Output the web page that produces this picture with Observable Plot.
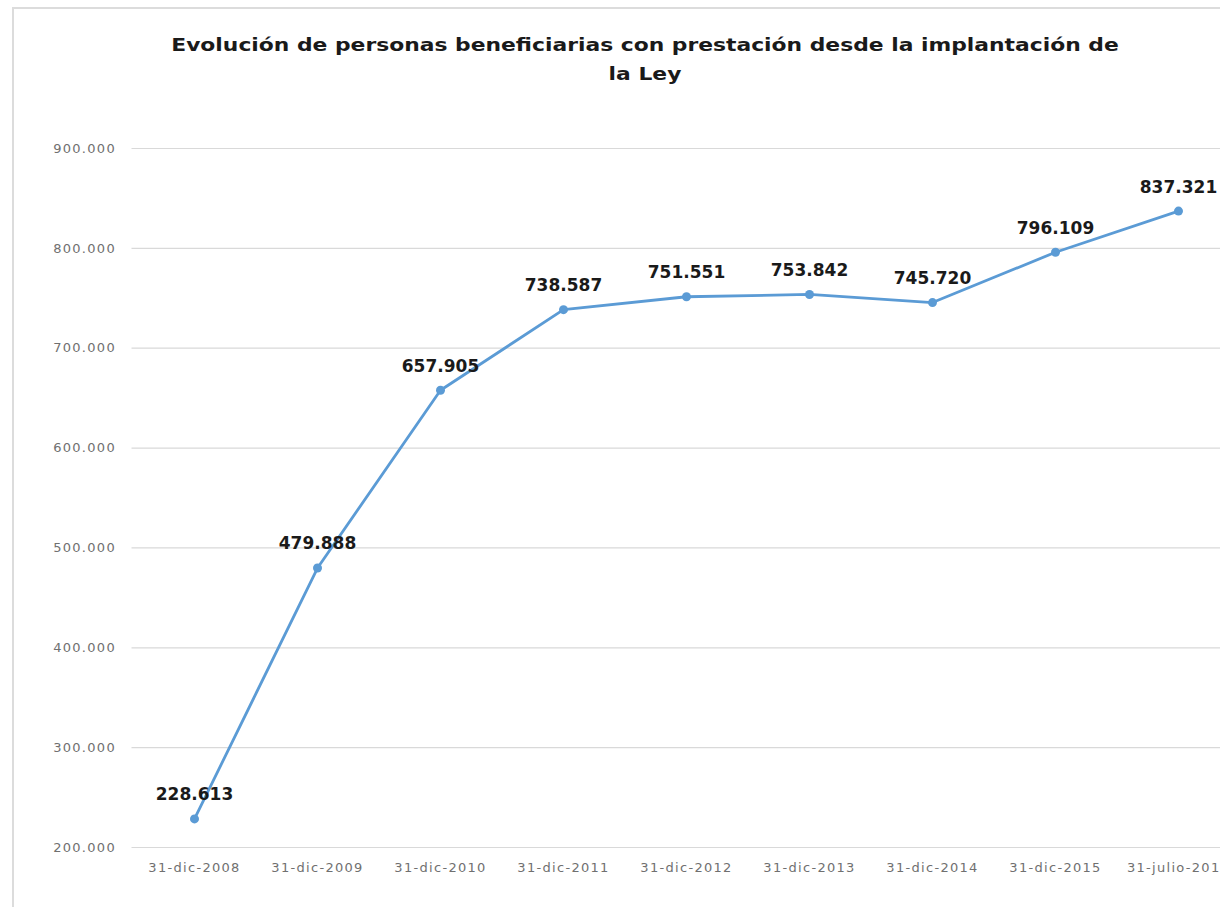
<!DOCTYPE html>
<html>
<head>
<meta charset="utf-8">
<script src="https://cdn.jsdelivr.net/npm/d3@7"></script>
<script src="https://cdn.jsdelivr.net/npm/@observablehq/plot@0.6"></script>
<style>
  html, body { margin: 0; padding: 0; background: #fff; overflow: hidden; width: 1220px; height: 907px; }
  #wrap { position: relative; width: 1220px; height: 907px; overflow: hidden; }
  #frame { position: absolute; left: 12px; top: 7px; width: 1300px; height: 1000px; border-left: 2px solid #dcdcdc; border-top: 2px solid #dcdcdc; box-sizing: border-box; }
  #title { position: absolute; left: 0; width: 1290px; top: 30px; text-align: center; font-family: "DejaVu Sans", sans-serif; font-weight: bold; font-size: 18.5px; line-height: 29px; color: #1a1a1a; transform: scaleX(1.18); transform-origin: 645px 0; }
  #chart { position: absolute; left: 0; top: 0; }
  #chart svg { overflow: visible; max-width: none; }
</style>
</head>
<body>
<div id="wrap">
  <div id="frame"></div>
  <div id="chart"></div>
  <div id="title">Evolución de personas beneficiarias con prestación desde la implantación de<br>la Ley</div>
</div>
<script>
const categories = ["31-dic-2008", "31-dic-2009", "31-dic-2010", "31-dic-2011", "31-dic-2012", "31-dic-2013", "31-dic-2014", "31-dic-2015", "31-julio-2016"];
const values = [228613, 479888, 657905, 738587, 751551, 753842, 745720, 796109, 837321];
const yTicks = [200000, 300000, 400000, 500000, 600000, 700000, 800000, 900000];

const data = categories.map((c, i) => ({ date: c, value: values[i] }));
const locale = d3.formatLocale({ decimal: ",", thousands: ".", grouping: [3], currency: ["", "€"] });
const fmt = locale.format(",.0f");

const chart = Plot.plot({
  width: 1240,
  height: 907,
  marginTop: 148,
  marginBottom: 60,
  marginLeft: 131.5,
  marginRight: 0,
  style: { fontFamily: "DejaVu Sans, sans-serif", background: "transparent", overflow: "visible" },
  x: { type: "point", domain: categories, padding: 0.5, align: 0.5 },
  y: { domain: [200000, 900000] },
  marks: [
    Plot.ruleY(yTicks, { stroke: "#d9d9d9", strokeWidth: 1.2 }),
    Plot.axisY({ ticks: yTicks, tickFormat: fmt, tickSize: 0, tickPadding: 16, fontSize: 13, fill: "#707070", label: null }),
    Plot.axisX({ tickSize: 0, tickPadding: 15, fontSize: 13, fill: "#707070", label: null }),
    Plot.line(data, { x: "date", y: "value", stroke: "#5b9bd5", strokeWidth: 2.8 }),
    Plot.dot(data, { x: "date", y: "value", r: 4.5, fill: "#5b9bd5", stroke: "none" }),
    Plot.text(data, { x: "date", y: "value", text: d => fmt(d.value), dy: -24, fontSize: 17, fontWeight: "bold", fill: "#1a1a1a" })
  ]
});
chart.querySelectorAll("g[aria-label='x-axis tick label'] text, g[aria-label='y-axis tick label'] text").forEach(t => t.setAttribute("letter-spacing", "1.3"));
document.getElementById("chart").appendChild(chart);
</script>
</body>
</html>
